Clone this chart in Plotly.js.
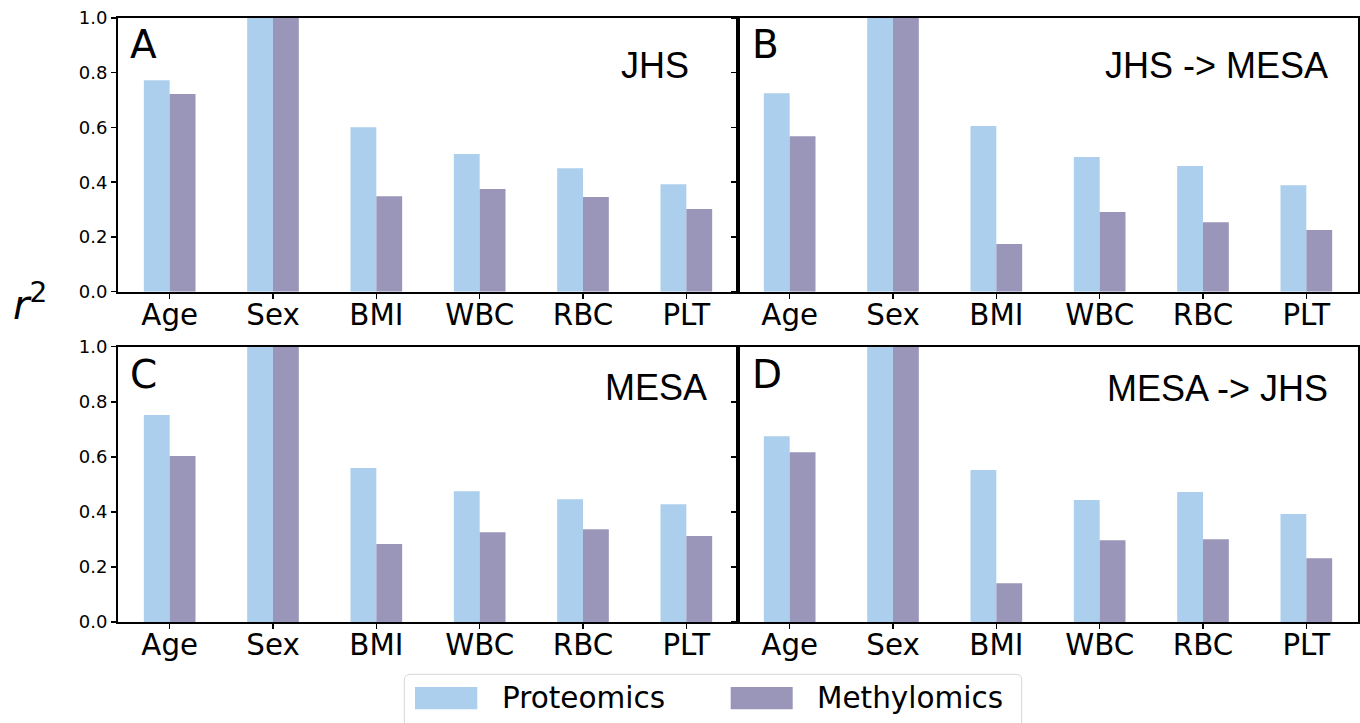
<!DOCTYPE html>
<html>
<head>
<meta charset="utf-8">
<script src="https://cdn.plot.ly/plotly-3.0.1.min.js"></script>
<style>html,body{margin:0;padding:0;background:#fff;}#chart{width:1360px;height:723px;}</style>
</head>
<body>
<div id="chart"></div>
<script>
// ---- data ----
const categories = ['Age', 'Sex', 'BMI', 'WBC', 'RBC', 'PLT'];
const seriesNames = ['Proteomics', 'Methylomics'];
const panelLetters = ['A', 'B', 'C', 'D'];
const panelTitles = ['JHS', 'JHS -> MESA', 'MESA', 'MESA -> JHS'];
const jhsProt      = [0.773, 1.0, 0.601, 0.503, 0.451, 0.393];
const jhsMeth      = [0.722, 1.0, 0.349, 0.375, 0.346, 0.302];
const jhsMesaProt  = [0.725, 1.0, 0.605, 0.492, 0.459, 0.389];
const jhsMesaMeth  = [0.568, 1.0, 0.174, 0.291, 0.254, 0.225];
const mesaProt     = [0.752, 1.0, 0.559, 0.475, 0.446, 0.428];
const mesaMeth     = [0.603, 1.0, 0.283, 0.326, 0.337, 0.312];
const mesaJhsProt  = [0.675, 1.0, 0.552, 0.443, 0.472, 0.392];
const mesaJhsMeth  = [0.617, 1.0, 0.141, 0.297, 0.301, 0.232];
const yTicks = [0, 0.2, 0.4, 0.6, 0.8, 1.0];

// ---- styling ----
const colProt = '#abcfec';
const colMeth = '#9a96b9';
const W = 1360, H = 723;
const M = {l: 118, r: 2, t: 18, b: 101};
const PW = W - M.l - M.r, PH = H - M.t - M.b;
const px = x => (x - M.l) / PW;
const py = y => (H - M.b - y) / PH;

const panels = [
  {prot: jhsProt, meth: jhsMeth, xa: 'x', ya: 'y'},
  {prot: jhsMesaProt, meth: jhsMesaMeth, xa: 'x2', ya: 'y2'},
  {prot: mesaProt, meth: mesaMeth, xa: 'x3', ya: 'y3'},
  {prot: mesaJhsProt, meth: mesaJhsMeth, xa: 'x4', ya: 'y4'}
];

const traces = [];
panels.forEach(p => {
  traces.push({type: 'bar', x: categories, y: p.prot, name: seriesNames[0],
    marker: {color: colProt, line: {width: 0}}, xaxis: p.xa, yaxis: p.ya, showlegend: false});
  traces.push({type: 'bar', x: categories, y: p.meth, name: seriesNames[1],
    marker: {color: colMeth, line: {width: 0}}, xaxis: p.xa, yaxis: p.ya, showlegend: false});
});

const topDom = [py(291.7), 1];
const botDom = [0, py(346.7)];
const leftDom = [0, 0.5];
const rightDom = [0.5, 1];

function xAxis(domain, anchor) {
  return {domain: domain, anchor: anchor, type: 'category', range: [-0.5, 5.5],
    showline: true, linecolor: '#000', linewidth: 2, mirror: true,
    ticks: 'outside', ticklen: 5, tickwidth: 1.5, tickcolor: '#000',
    ticklabelstandoff: -9,
    tickfont: {family: 'DejaVu Sans', size: 29.3, color: '#000'},
    showgrid: false, zeroline: false, fixedrange: true};
}
function yAxis(domain, anchor, labels) {
  return {domain: domain, anchor: anchor, range: [0, 1],
    tickvals: yTicks, tickformat: '.1f', showticklabels: labels,
    showline: true, linecolor: '#000', linewidth: 2, mirror: true,
    ticks: 'outside', ticklen: 5, tickwidth: 1.5, tickcolor: '#000',
    tickfont: {family: 'DejaVu Sans', size: 18, color: '#000'},
    showgrid: false, zeroline: false, fixedrange: true};
}

const annotations = [];
// panel letters
const letterPos = [[130, 45], [751.7, 45], [130, 375], [751.7, 375]];
const titlePos = [[654.5, 66.7], [1216.7, 67], [656, 388.8], [1217, 389]];
panelLetters.forEach((l, i) => {
  annotations.push({text: l, xref: 'paper', yref: 'paper', x: px(letterPos[i][0] - 2), y: py(letterPos[i][1] - 1),
    xanchor: 'left', yanchor: 'middle', showarrow: false,
    font: {family: 'DejaVu Sans', size: 39, color: '#000'}});
  annotations.push({text: panelTitles[i], xref: 'paper', yref: 'paper', x: px(titlePos[i][0]), y: py(titlePos[i][1] - 1),
    xanchor: 'center', yanchor: 'middle', showarrow: false,
    font: {family: 'Liberation Sans', size: 36, color: '#000'}});
});
// y label r^2
annotations.push({text: '<i>r</i><sup>2</sup>', xref: 'paper', yref: 'paper', x: px(30), y: py(302),
  xanchor: 'center', yanchor: 'middle', showarrow: false,
  font: {family: 'DejaVu Sans', size: 40, color: '#000'}});

// custom legend
const shapes = [];
const lx0 = 404.3, lx1 = 1021.7, ly0 = 674.3, ly1 = 740, rr = 6;
shapes.push({type: 'path', xref: 'paper', yref: 'paper',
  path: `M ${px(lx0 + rr)} ${py(ly0)} L ${px(lx1 - rr)} ${py(ly0)} Q ${px(lx1)} ${py(ly0)} ${px(lx1)} ${py(ly0 + rr)} L ${px(lx1)} ${py(ly1)} L ${px(lx0)} ${py(ly1)} L ${px(lx0)} ${py(ly0 + rr)} Q ${px(lx0)} ${py(ly0)} ${px(lx0 + rr)} ${py(ly0)} Z`,
  line: {color: '#d6d6d6', width: 1}, fillcolor: 'rgba(255,255,255,0.8)'});
const legItems = [
  {name: seriesNames[0], color: colProt, patch: [415, 477.3], tx: 501.7},
  {name: seriesNames[1], color: colMeth, patch: [730.7, 792.7], tx: 817.3}
];
legItems.forEach(it => {
  shapes.push({type: 'rect', xref: 'paper', yref: 'paper',
    x0: px(it.patch[0]), x1: px(it.patch[1]), y0: py(687), y1: py(709.3),
    line: {width: 0}, fillcolor: it.color});
  annotations.push({text: it.name, xref: 'paper', yref: 'paper', x: px(it.tx - 2), y: py(698),
    xanchor: 'left', yanchor: 'middle', showarrow: false,
    font: {family: 'DejaVu Sans', size: 29.5, color: '#000'}});
});

const layout = {
  width: W, height: H,
  margin: M,
  paper_bgcolor: '#fff', plot_bgcolor: '#fff',
  barmode: 'group', bargap: 0.5, bargroupgap: 0,
  showlegend: false,
  xaxis: xAxis(leftDom, 'y'),
  yaxis: yAxis(topDom, 'x', true),
  xaxis2: xAxis(rightDom, 'y2'),
  yaxis2: yAxis(topDom, 'x2', false),
  xaxis3: xAxis(leftDom, 'y3'),
  yaxis3: yAxis(botDom, 'x3', true),
  xaxis4: xAxis(rightDom, 'y4'),
  yaxis4: yAxis(botDom, 'x4', false),
  annotations: annotations,
  shapes: shapes
};

Plotly.newPlot('chart', traces, layout, {staticPlot: true, displayModeBar: false});
</script>
</body>
</html>
